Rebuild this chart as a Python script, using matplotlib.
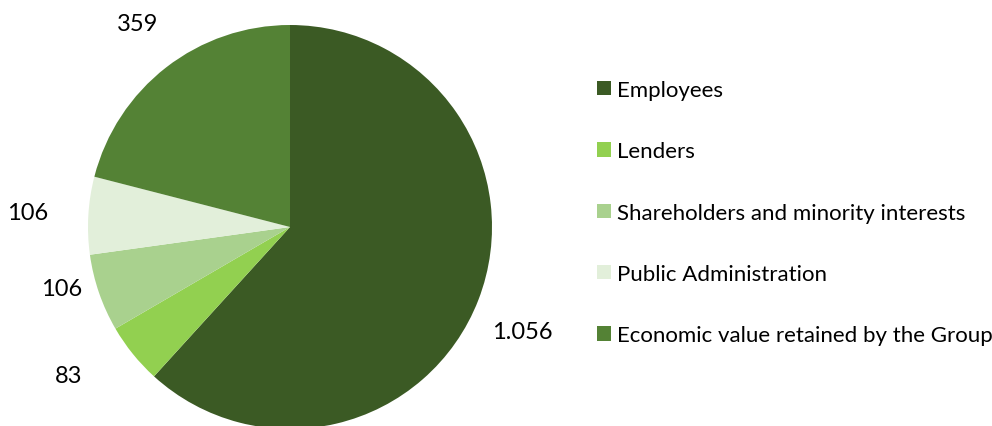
import matplotlib
matplotlib.use("Agg")
import matplotlib.pyplot as plt
from matplotlib.patches import Patch
import numpy as np

categories = ["Employees", "Lenders", "Shareholders and minority interests",
              "Public Administration", "Economic value retained by the Group"]
values = [1056, 83, 106, 106, 359]
value_labels = ["1.056", "83", "106", "106", "359"]
colors = ["#3B5A24", "#92D050", "#A9D18E", "#E2EFDA", "#548235"]

# label placement (style): radial distance and angular nudge per label
label_dist = [1.26, 1.32, 1.17, 1.30, 1.26]
label_nudge = [-3, -5, -4, 0, -1]

plt.rcParams['font.family'] = ['Lato', 'DejaVu Sans']

W, H = 992, 427
fig = plt.figure(figsize=(W / 100, H / 100), dpi=100)
cx, cy, r = 290, 228, 202
ax = fig.add_axes([(cx - r) / W, (H - cy - r) / H, 2 * r / W, 2 * r / H])
wedges, _ = ax.pie(values, colors=colors, startangle=90, counterclock=False,
                   wedgeprops=dict(linewidth=0))
for w, lab, d, n in zip(wedges, value_labels, label_dist, label_nudge):
    ang = np.deg2rad((w.theta1 + w.theta2) / 2 + n)
    ax.text(d * np.cos(ang), d * np.sin(ang), lab, ha="center", va="center",
            fontsize=17, color="#000000", clip_on=False)
ax.set_xlim(-1, 1)
ax.set_ylim(-1, 1)
ax.set_aspect("equal")
ax.axis("off")

handles = [Patch(facecolor=c, edgecolor="none") for c in colors]
fig.legend(handles, categories, loc="upper left",
           bbox_to_anchor=(588 / W, 1 - 72 / H), frameon=False,
           fontsize=16, handlelength=0.62, handleheight=0.62,
           handletextpad=0.3, labelspacing=1.86, borderaxespad=0)

fig.savefig("out.png", dpi=100)
